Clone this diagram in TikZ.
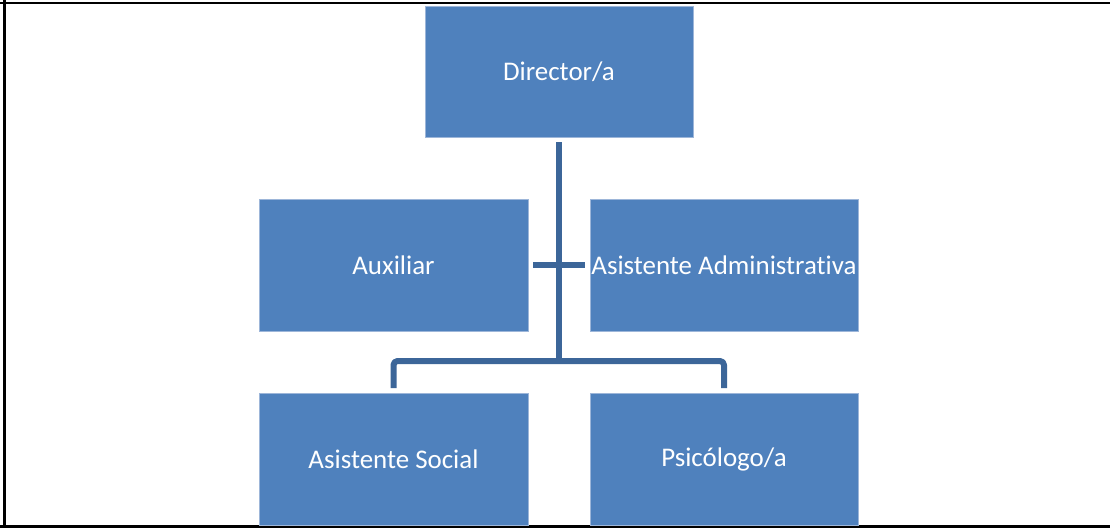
\documentclass[tikz,border=0pt]{standalone}
\usepackage{fontspec}
\setmainfont[Ligatures={NoCommon}]{Carlito}
\definecolor{boxblue}{HTML}{4F81BD}
\definecolor{boxedge}{HTML}{9DB6D9}
\definecolor{connblue}{HTML}{3C6699}
\begin{document}
\begin{tikzpicture}[x=0.75pt,y=-0.75pt,
  orgbox/.style={rectangle, fill=boxblue, draw=boxedge, line width=0.5pt,
    text=white, inner sep=0pt, font=\fontsize{20.2}{24}\selectfont},
  conn/.style={draw=connblue, line width=4.5pt, line join=round}]
\useasboundingbox (0,0) rectangle (1110,529);
% frame
\draw[line width=2pt] (0,3) -- (1110,3);
\draw[line width=2.4pt] (4.8,0) -- (4.8,527);
\draw[line width=2pt] (0,526.5) -- (1110,526.5);
% boxes
\node[orgbox, minimum width=268*0.75pt, minimum height=131*0.75pt] (dir) at (559,71.5) {Director/a};
\node[orgbox, minimum width=269*0.75pt, minimum height=132*0.75pt] (aux) at (393.5,265) {Auxiliar};
\node[orgbox, minimum width=268*0.75pt, minimum height=132*0.75pt] (adm) at (724,265) {Asistente Administrat\kern0pt iva};
\node[orgbox, minimum width=269*0.75pt, minimum height=132*0.75pt] (soc) at (393.5,459) {Asistente Social};
\node[orgbox, minimum width=268*0.75pt, minimum height=132*0.75pt] (psi) at (724,459) {Psicólogo/a};
% connectors
\coordinate (bar) at (559,361);
\coordinate (socdrop) at (393.5,388);
\coordinate (psidrop) at (724,388);
\draw[conn, shorten <=3.75pt] (dir.south) -- (dir.south |- bar);
\draw[conn, rounded corners=3pt] (socdrop) -- (socdrop |- bar) -- (psidrop |- bar) -- (psidrop);
\draw[conn, shorten <=3.75pt, shorten >=3.75pt] (aux.east) -- (adm.west);
\end{tikzpicture}
\end{document}
